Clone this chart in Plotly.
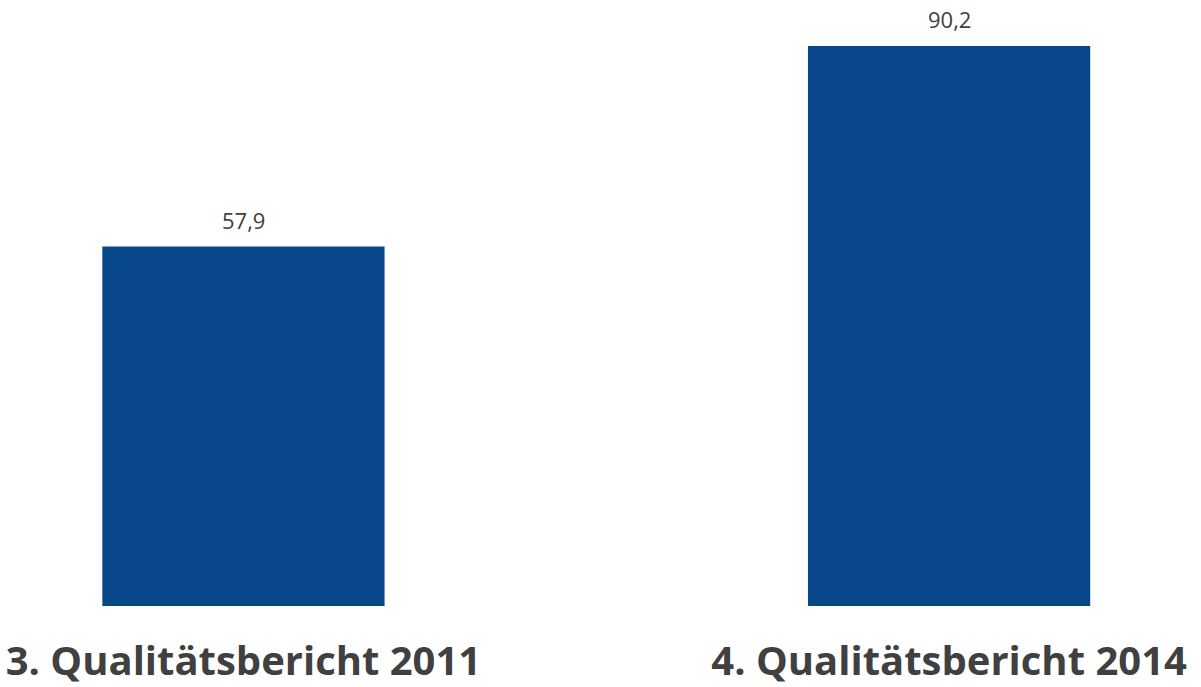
import plotly.graph_objects as go

categories = ["3. Qualitätsbericht 2011", "4. Qualitätsbericht 2014"]
values = [57.9, 90.2]
value_labels = ["57,9", "90,2"]

bar_color = "#08488A"
text_color = "#404040"

fig = go.Figure(
    go.Bar(
        x=categories,
        y=values,
        width=0.4,
        marker=dict(color=bar_color, line=dict(width=0)),
        hoverinfo="skip",
    )
)

for c, v, t in zip(categories, values, value_labels):
    fig.add_annotation(
        x=c, y=v, text=t, showarrow=False,
        yanchor="bottom", yshift=10,
        font=dict(family="Open Sans", size=22, color=text_color),
    )

fig.update_layout(
    width=1201,
    height=687,
    margin=dict(l=0, r=0, t=0, b=81),
    paper_bgcolor="white",
    plot_bgcolor="white",
    showlegend=False,
    xaxis=dict(
        type="category",
        range=[-0.345, 1.357],
        showgrid=False,
        showline=False,
        zeroline=False,
        ticks="",
        ticklabelstandoff=28,
        tickfont=dict(family="Open Sans", size=40, color=text_color, weight="bold"),
    ),
    yaxis=dict(
        range=[0, 97.6],
        visible=False,
    ),
)

fig.write_html("out.html")
